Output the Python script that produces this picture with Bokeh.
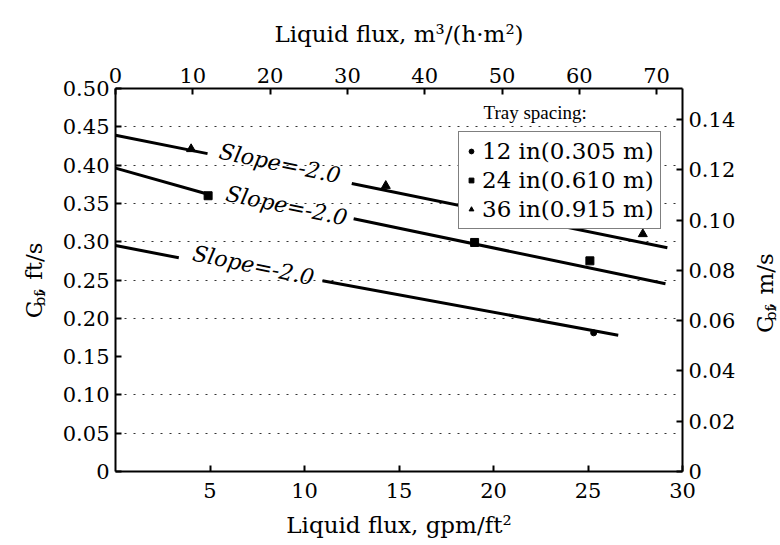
import math
from bokeh.plotting import figure
from bokeh.layouts import row
from bokeh.models import Range1d, LinearAxis, FixedTicker, Label, Legend, LegendItem
from bokeh.embed import file_html
from bokeh.resources import INLINE

# ---- data ----
gpm_ticks = [5, 10, 15, 20, 25, 30]
m3_ticks = [0, 10, 20, 30, 40, 50, 60, 70]
fts_ticks = [0.0, 0.05, 0.10, 0.15, 0.20, 0.25, 0.30, 0.35, 0.40, 0.45, 0.50]
fts_labels = ["0", "0.05", "0.10", "0.15", "0.20", "0.25", "0.30", "0.35", "0.40", "0.45", "0.50"]
ms_ticks = [0.0, 0.02, 0.04, 0.06, 0.08, 0.10, 0.12, 0.14]
ms_labels = ["0", "0.02", "0.04", "0.06", "0.08", "0.10", "0.12", "0.14"]
grid_levels = [0.05, 0.10, 0.20, 0.25, 0.30, 0.35, 0.40, 0.45]

GPM_TO_M3 = 2.445      # 1 gpm/ft2 = 2.445 m3/(h m2)
FT_TO_M = 0.3048

# 36 in (0.915 m) tray spacing
line36_x = [[0.0, 4.87], [12.5, 29.2]]
line36_y = [[0.439, 0.415], [0.376, 0.292]]
mark36_x = [4.0, 14.3, 27.9]
mark36_y = [0.421, 0.373, 0.310]
# 24 in (0.610 m)
line24_x = [[0.0, 4.9], [12.6, 29.1]]
line24_y = [[0.396, 0.362], [0.330, 0.245]]
mark24_x = [4.9, 19.0, 25.1]
mark24_y = [0.360, 0.299, 0.275]
# 12 in (0.305 m)
line12_x = [[0.0, 3.35], [10.95, 26.6]]
line12_y = [[0.295, 0.279], [0.249, 0.178]]
mark12_x = [25.3]
mark12_y = [0.181]

slope_text = "Slope=-2.0"
slope_x = [8.7, 9.05, 7.3]
slope_y = [0.402, 0.347, 0.269]

legend_title = "Tray spacing:"
legend_labels = ["12 in(0.305 m)", "24 in(0.610 m)", "36 in(0.915 m)"]

FONT = "DejaVu Serif"
FONT2 = "Liberation Serif"

H = 545
LEFT_W, MAIN_W, RIGHT_W = 50, 690, 40

p = figure(width=MAIN_W, height=H, output_backend="svg", toolbar_location=None,
           x_range=Range1d(0, 30), y_range=Range1d(0, 0.5))
p.min_border_left = 65
p.min_border_right = 58
p.min_border_top = 88
p.min_border_bottom = 74
p.outline_line_color = None
p.background_fill_color = "white"
p.border_fill_color = "white"

p.extra_x_ranges = {"m3": Range1d(0, 30 * GPM_TO_M3)}
p.extra_y_ranges = {"ms": Range1d(0, 0.5 * FT_TO_M)}

top = LinearAxis(x_range_name="m3")
right = LinearAxis(y_range_name="ms")
p.add_layout(top, "above")
p.add_layout(right, "right")
bottom = p.below[0]
left = p.left[0]

bottom.ticker = FixedTicker(ticks=gpm_ticks)
top.ticker = FixedTicker(ticks=m3_ticks)
left.ticker = FixedTicker(ticks=fts_ticks)
left.major_label_overrides = dict(zip(fts_ticks, fts_labels))
right.ticker = FixedTicker(ticks=ms_ticks)
right.major_label_overrides = dict(zip(ms_ticks, ms_labels))

for ax in [bottom, top, left, right]:
    ax.axis_line_width = 2
    ax.axis_line_color = "black"
    ax.major_tick_in = 6
    ax.major_tick_out = 0
    ax.major_tick_line_width = 2
    ax.minor_tick_line_color = None
    ax.major_label_text_font = FONT
    ax.major_label_text_font_size = "21px"
    ax.major_label_text_color = "black"
    ax.major_label_standoff = 6
    ax.axis_label_text_font = FONT
    ax.axis_label_text_font_size = "23px"
    ax.axis_label_text_font_style = "normal"
    ax.axis_label_text_color = "black"

bottom.axis_label = "Liquid flux, gpm/ft\u00b2"
bottom.major_label_standoff = 11
bottom.axis_label_standoff = 11
top.axis_label = "Liquid flux, m\u00b3/(h\u00b7m\u00b2)"
top.major_label_standoff = 6
top.axis_label_standoff = 18

p.xgrid.grid_line_color = None
p.ygrid.ticker = FixedTicker(ticks=grid_levels)
p.ygrid.grid_line_color = "#333333"
p.ygrid.grid_line_dash = "2 7"
p.ygrid.grid_line_width = 1

# lines
for xs, ys in [(line36_x, line36_y), (line24_x, line24_y), (line12_x, line12_y)]:
    p.multi_line(xs=xs, ys=ys, line_color="black", line_width=3)

r36 = p.scatter(mark36_x, mark36_y, marker="triangle", size=9, color="black")
r24 = p.scatter(mark24_x, mark24_y, marker="square", size=8, color="black")
r12 = p.scatter(mark12_x, mark12_y, marker="circle", size=6, color="black")

for sx, sy in zip(slope_x, slope_y):
    p.add_layout(Label(x=sx, y=sy, text=slope_text, angle=-0.205,
                       text_align="center", text_baseline="middle",
                       text_font=FONT, text_font_style="italic",
                       text_font_size="22px", text_color="black"))

legend = Legend(items=[LegendItem(label=legend_labels[0], renderers=[r12]),
                       LegendItem(label=legend_labels[1], renderers=[r24]),
                       LegendItem(label=legend_labels[2], renderers=[r36])],
                location=(343, 242))
legend.label_text_font = FONT
legend.label_text_font_size = "23px"
legend.label_text_color = "black"
legend.glyph_width = 12
legend.glyph_height = 26
legend.label_height = 26
legend.label_standoff = 5
legend.spacing = 3
legend.padding = 6
legend.margin = 0
legend.border_line_color = "black"
legend.border_line_width = 1.5
legend.background_fill_alpha = 1.0
p.add_layout(legend)

p.add_layout(Label(x=22.2, y=0.469, text=legend_title, text_align="center",
                   text_baseline="middle", text_font=FONT2, text_font_size="19px",
                   text_color="black"))


# side panels carrying the rotated axis titles with a subscript
def side_panel(width, base_x, base_y, unit):
    f = figure(width=width, height=H, output_backend="svg", toolbar_location=None,
               x_range=Range1d(0, width), y_range=Range1d(0, H), min_border=0)
    f.axis.visible = False
    f.grid.visible = False
    f.outline_line_color = None
    f.background_fill_color = "white"
    f.border_fill_color = "white"
    common = dict(angle=math.pi / 2, text_align="left", text_baseline="alphabetic",
                  text_font=FONT, text_color="black")
    f.add_layout(Label(x=base_x, y=base_y, text="C", text_font_size="23px", **common))
    f.add_layout(Label(x=base_x + 6, y=base_y + 17, text="bf", text_font_size="15px", **common))
    f.add_layout(Label(x=base_x, y=base_y + 34, text=unit, text_font_size="23px", **common))
    return f


left_panel = side_panel(LEFT_W, 33, 218, ", ft/s")
right_panel = side_panel(RIGHT_W, 24, 197, ", m/s")

layout = row(left_panel, p, right_panel, spacing=0)
open("out.html", "w").write(file_html(layout, INLINE))
